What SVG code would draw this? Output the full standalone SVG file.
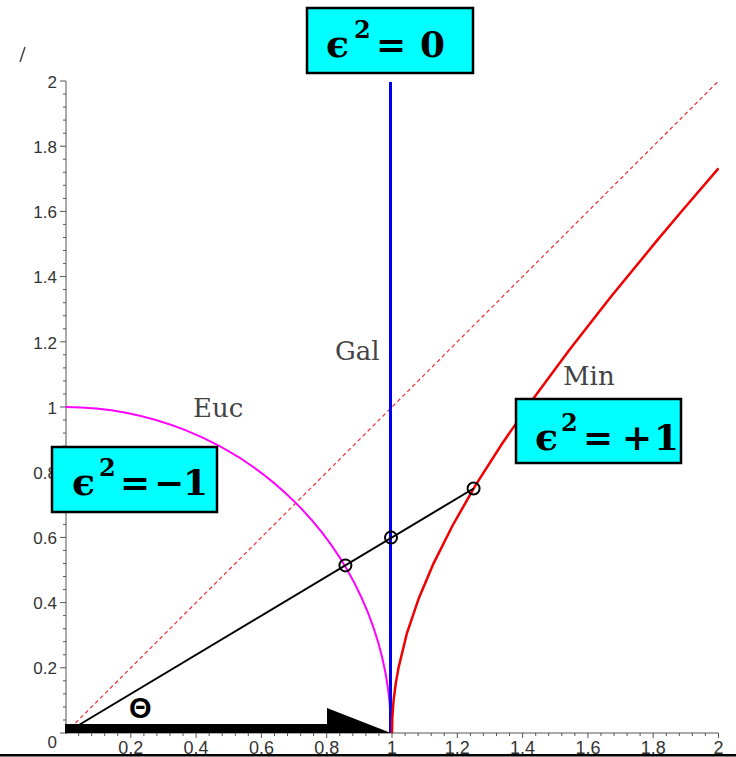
<svg xmlns="http://www.w3.org/2000/svg" width="736" height="757" viewBox="0 0 736 757">
<style>
.tick{stroke:#555;stroke-width:1;fill:none}
.ylab{font-family:"Liberation Sans",Arial,sans-serif;font-size:17px;fill:#333;text-anchor:end}
.xlab{font-family:"Liberation Sans",Arial,sans-serif;font-size:18px;fill:#333;text-anchor:middle}
.curvelab{font-family:"DejaVu Serif",serif;font-size:26px;fill:#444}
.box{fill:#00ffff;stroke:#000;stroke-width:2.5}
.eq{font-family:"DejaVu Serif","Liberation Serif",serif;font-weight:bold;fill:#000}
.pt{fill:none;stroke:#000;stroke-width:2}
.theta{font-family:"Liberation Sans",Arial,sans-serif;font-weight:bold;font-size:29px;fill:#000}
</style>
<rect width="736" height="757" fill="#fff"/>
<line x1="20" y1="62" x2="25" y2="47" stroke="#444" stroke-width="1.5"/>
<g id="axes">
<path class="tick" d="M66 81V733H718.5"/>
<path class="tick" d="M60 733H66M63 720H66M63 706.9H66M63 693.9H66M63 680.8H66M60 667.8H66M63 654.8H66M63 641.7H66M63 628.7H66M63 615.6H66M60 602.6H66M63 589.6H66M63 576.5H66M63 563.5H66M63 550.4H66M60 537.4H66M63 524.4H66M63 511.3H66M63 498.3H66M63 485.2H66M60 472.2H66M63 459.2H66M63 446.1H66M63 433.1H66M63 420H66M60 407H66M63 394H66M63 380.9H66M63 367.9H66M63 354.8H66M60 341.8H66M63 328.8H66M63 315.7H66M63 302.7H66M63 289.6H66M60 276.6H66M63 263.6H66M63 250.5H66M63 237.5H66M63 224.4H66M60 211.4H66M63 198.4H66M63 185.3H66M63 172.3H66M63 159.2H66M60 146.2H66M63 133.2H66M63 120.1H66M63 107.1H66M63 94H66M60 81H66"/>
<path class="tick" d="M78.6 733V736M91.6 733V736M104.7 733V736M117.7 733V736M130.8 733V738M143.9 733V736M156.9 733V736M170 733V736M183 733V736M196.1 733V738M209.2 733V736M222.2 733V736M235.3 733V736M248.3 733V736M261.4 733V738M274.5 733V736M287.5 733V736M300.6 733V736M313.6 733V736M326.7 733V738M339.8 733V736M352.8 733V736M365.9 733V736M378.9 733V736M392 733V738M405.1 733V736M418.1 733V736M431.2 733V736M444.2 733V736M457.3 733V738M470.4 733V736M483.4 733V736M496.5 733V736M509.5 733V736M522.6 733V738M535.7 733V736M548.7 733V736M561.8 733V736M574.8 733V736M587.9 733V738M601 733V736M614 733V736M627.1 733V736M640.1 733V736M653.2 733V738M666.3 733V736M679.3 733V736M692.4 733V736M705.4 733V736M718.5 733V738"/>
<text class="ylab" x="57" y="88">2</text>
<text class="ylab" x="57" y="153">1.8</text>
<text class="ylab" x="57" y="218">1.6</text>
<text class="ylab" x="57" y="283">1.4</text>
<text class="ylab" x="57" y="349">1.2</text>
<text class="ylab" x="57" y="414">1</text>
<text class="ylab" x="57" y="479">0.8</text>
<text class="ylab" x="57" y="544">0.6</text>
<text class="ylab" x="57" y="609">0.4</text>
<text class="ylab" x="57" y="674">0.2</text>
<text class="ylab" x="57" y="748">0</text>
<text class="xlab" x="130.8" y="754">0.2</text>
<text class="xlab" x="196.1" y="754">0.4</text>
<text class="xlab" x="261.4" y="754">0.6</text>
<text class="xlab" x="326.7" y="754">0.8</text>
<text class="xlab" x="392" y="754">1</text>
<text class="xlab" x="457.3" y="754">1.2</text>
<text class="xlab" x="522.6" y="754">1.4</text>
<text class="xlab" x="587.9" y="754">1.6</text>
<text class="xlab" x="653.2" y="754">1.8</text>
<text class="xlab" x="718.5" y="754">2</text>
</g>
<g id="connectors">
<line x1="65.5" y1="733" x2="718.5" y2="81" stroke="#f03030" stroke-width="1.2" stroke-dasharray="4,3"/>
<path d="M65.5 407A326.5 326 0 0 1 391 733" fill="none" stroke="#ff00ff" stroke-width="2"/>
<line x1="390.5" y1="733" x2="390.5" y2="82" stroke="#0000ee" stroke-width="3"/>
<polyline fill="none" stroke="#f00000" stroke-width="2.5" stroke-linejoin="round" points="392,733 392.4,716.7 393.6,700.4 395.7,683.9 398.6,667.4 406.8,633.7 418.5,599.1 433.7,563.1 452.6,525.5 475.3,485.7 502.2,443.5 533.4,398.4 569.3,349.9 610.3,297.6 656.7,240.9 682.1,210.8 718.5,168.4"/>
<line x1="65.5" y1="733" x2="473.6" y2="488.5" stroke="#000" stroke-width="2"/>
<polygon points="65,724 327,724 327,708 391,733 65,733" fill="#000"/>
</g>
<g id="points">
<circle class="pt" cx="345.4" cy="565.4" r="6"/>
<circle class="pt" cx="391" cy="537.6" r="6"/>
<circle class="pt" cx="473.6" cy="488.5" r="6"/>
</g>
<g id="labels">
<text class="curvelab" x="335" y="360">Gal</text>
<text class="curvelab" x="193" y="417">Euc</text>
<text class="curvelab" x="563" y="385">Min</text>
<text class="theta" x="129" y="718">Θ</text>
</g>
<g id="box-gal">
<rect class="box" x="307" y="8" width="166" height="65"/>
<text class="eq" x="326" y="57" font-size="38">ϵ</text>
<text class="eq" x="354" y="38" font-size="24">2</text>
<text class="eq" x="376" y="57" font-size="36">=</text>
<text class="eq" x="420" y="57" font-size="36">0</text>
</g>
<g id="box-euc">
<rect class="box" x="52" y="447" width="165" height="65"/>
<text class="eq" x="72" y="495" font-size="38">ϵ</text>
<text class="eq" x="99" y="476" font-size="24">2</text>
<text class="eq" x="120" y="495" font-size="36">=</text>
<text class="eq" x="154" y="495" font-size="36">−</text>
<text class="eq" x="183" y="495" font-size="36">1</text>
</g>
<g id="box-min">
<rect class="box" x="516" y="399" width="165" height="64"/>
<text class="eq" x="535" y="450" font-size="38">ϵ</text>
<text class="eq" x="561" y="431" font-size="24">2</text>
<text class="eq" x="583" y="450" font-size="36">=</text>
<text class="eq" x="622" y="450" font-size="36">+</text>
<text class="eq" x="654" y="450" font-size="36">1</text>
</g>
<rect x="0" y="754" width="736" height="2.5" fill="#000"/>
</svg>
